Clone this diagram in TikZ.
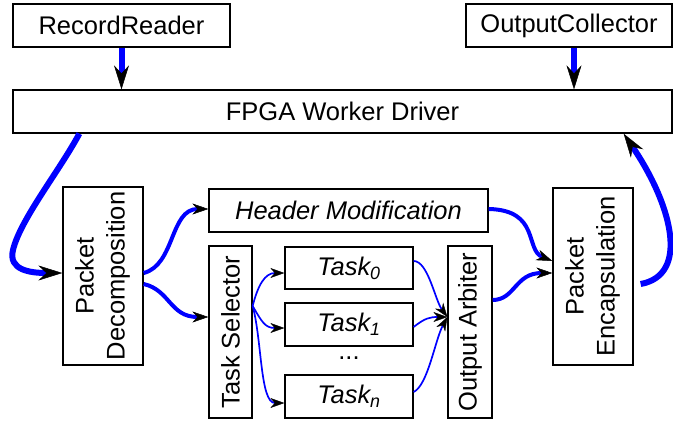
\documentclass[tikz,border=0pt]{standalone}
\usepackage{fontspec}
\setmainfont{Liberation Sans}
\usetikzlibrary{arrows.meta,calc}
\begin{document}
\begin{tikzpicture}[x=1pt,y=-1pt,
  box/.style={draw=black,line width=1.3pt,inner sep=0pt,font=\fontsize{25.5}{31}\selectfont},
  bigflow/.style={draw=blue,line width=6pt,-{Stealth[black,length=24pt,width=15pt,inset=8pt,line width=0.5pt]}},
  midflow/.style={draw=blue,line width=4pt,-{Stealth[black,length=16pt,width=11pt,inset=5pt,line width=0.5pt]}},
  thinflow/.style={draw=blue,line width=1.7pt,-{Stealth[black,length=14pt,width=10pt,inset=4.5pt,line width=0.4pt]}}]
\useasboundingbox (0,0) rectangle (673,421);
\fill[white] (0,0) rectangle (673,421);
% boxes
\node[box,minimum width=217pt,minimum height=43pt] (rr) at (121.5,25.5) {RecordReader};
\node[box,minimum width=206pt,minimum height=43pt] (oc) at (569,25.5) {OutputCollector};
\node[box,minimum width=659pt,minimum height=43pt] (fpga) at (342.5,111.5) {FPGA Worker Driver};
\node[box,minimum width=80pt,minimum height=178pt] (pd) at (103,276) {\rotatebox{90}{\begin{tabular}{@{}c@{}}Packet\\Decomposition\end{tabular}}};
\node[box,minimum width=279pt,minimum height=43pt,font=\fontsize{25.5}{31}\selectfont\itshape] (hm) at (348.5,210.5) {Header Modification};
\node[box,minimum width=43pt,minimum height=172pt] (ts) at (230.5,332) {\rotatebox{90}{Task Selector}};
\node[box,minimum width=128pt,minimum height=42pt,font=\fontsize{25.5}{31}\selectfont\itshape] (t0) at (349,268) {Task\textsubscript{0}};
\node[box,minimum width=128pt,minimum height=43pt,font=\fontsize{25.5}{31}\selectfont\itshape] (t1) at (349,324.5) {Task\textsubscript{1}};
\node[box,minimum width=128pt,minimum height=43pt,font=\fontsize{25.5}{31}\selectfont\itshape] (tn) at (349,396.5) {Task\textsubscript{n}};
\node[inner sep=0pt,anchor=base,font=\fontsize{25.5}{31}\selectfont] (dots) at (349,359) {...};
\node[box,minimum width=44pt,minimum height=172pt] (oa) at (470,332) {\rotatebox{90}{Output Arbiter}};
\node[box,minimum width=80pt,minimum height=177pt] (pe) at (593,276.5) {\rotatebox{90}{\begin{tabular}{@{}c@{}}Packet\\Encapsulation\end{tabular}}};
% top arrows
\draw[bigflow] (rr.south) -- (rr.south |- fpga.north);
\coordinate (ocx) at ($(oc.south)+(5,0)$);
\draw[bigflow] (ocx) -- (ocx |- fpga.north);
% big loop arrows
\draw[bigflow] ($(fpga.south west)+(67,0)$) .. controls (60,170) and (20,220) .. (13,250)
   .. controls (8,270) and (30,273) .. ($(pd.west)+(0,-3)$);
\draw[bigflow] ($(pe.east)+(7,7.5)$) .. controls (690,275) and (672,205) .. ($(fpga.south east)+(-49,0)$);
% medium arrows
\draw[midflow] ($(pd.east)+(0,-3)$) .. controls (175,265) and (170,209) .. ($(hm.west)+(0,-1.5)$);
\draw[midflow] ($(pd.east)+(0,8)$) .. controls (170,290) and (170,317) .. ($(ts.west)+(0,-15)$);
\draw[midflow] ($(hm.east)+(0,-1.5)$) .. controls (540,210) and (525,250) .. ($(pe.west)+(0,-15.5)$);
\draw[midflow] ($(oa.east)+(0,-32)$) .. controls (515,300) and (515,273) .. ($(pe.west)+(0,-3.5)$);
% thin arrows
\coordinate (tsout) at ($(ts.east)+(0,-26)$);
\draw[thinflow] (tsout) .. controls (258,285) and (265,273) .. ($(t0.west)+(0,5)$);
\draw[thinflow] (tsout) .. controls (262,322) and (265,328) .. ($(t1.west)+(0,3.5)$);
\draw[thinflow] (tsout) .. controls (262,340) and (260,403) .. ($(tn.west)+(0,6.5)$);
\coordinate (oain) at ($(oa.west)+(0,-15)$);
\draw[thinflow] ($(t0.east)+(0,-7)$) .. controls (428,261) and (435,300) .. (oain);
\draw[thinflow] ($(t1.east)+(0,2.5)$) .. controls (425,318) and (430,317) .. (oain);
\draw[thinflow] ($(tn.east)+(0,-4.5)$) .. controls (428,385) and (435,340) .. (oain);
\end{tikzpicture}
\end{document}
